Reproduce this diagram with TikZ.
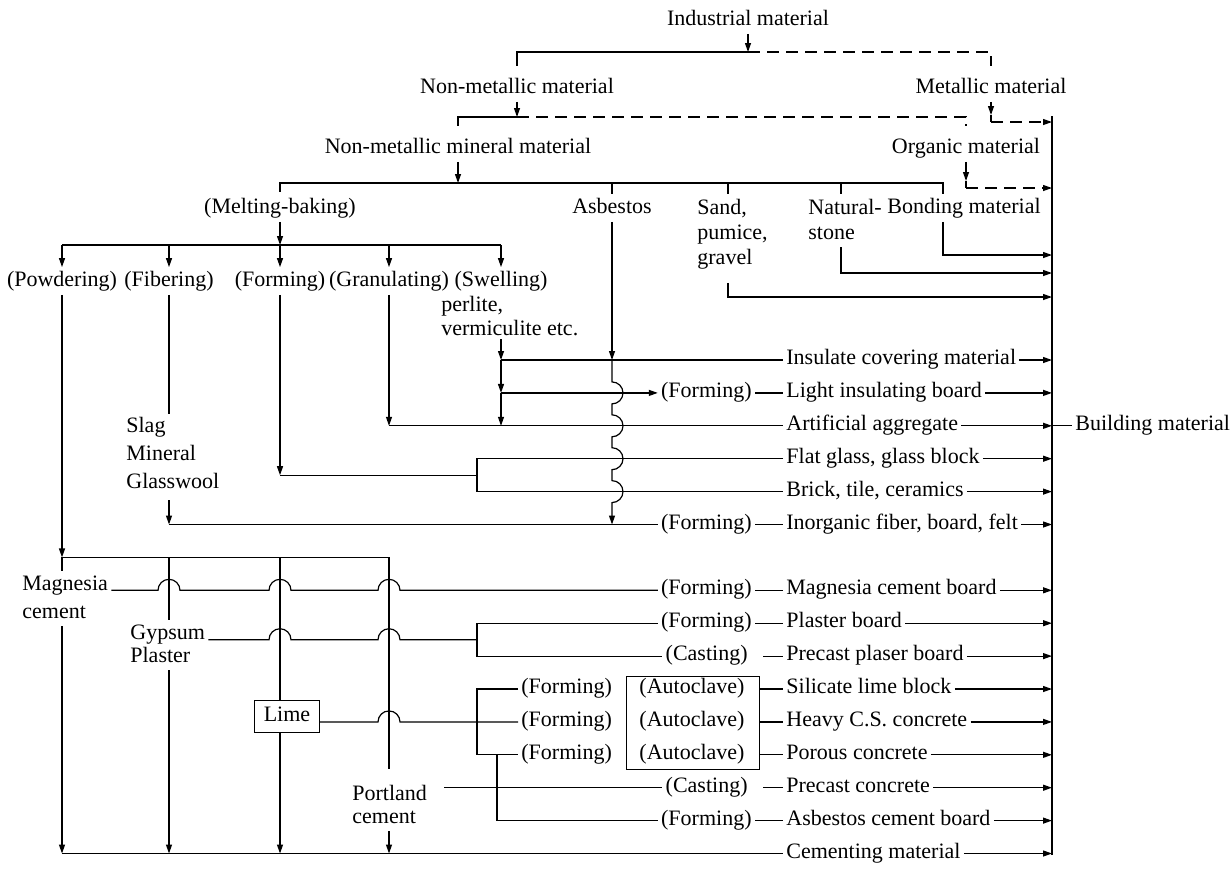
\documentclass[tikz,border=0pt]{standalone}
\usepackage{fontspec}
\setmainfont{Liberation Serif}
\usetikzlibrary{arrows.meta,calc}
\begin{document}
\begin{tikzpicture}[x=0.5pt,y=-0.5pt,
  every node/.style={font=\fontsize{11}{13}\selectfont, inner sep=1.5pt,
                     text height=8pt, text depth=2.5pt},
  ml/.style={align=left, anchor=north west, text height=, text depth=},
  wire/.style={line width=0.6pt},
  arr/.style={wire,-{Triangle[length=4.5pt,width=3pt]}},
  dsh/.style={wire,dash pattern=on 6pt off 3.5pt},
  darr/.style={dsh,-{Triangle[length=4.5pt,width=3pt]}},
  prod/.style={anchor=mid west},
  proc/.style={anchor=mid east},
]
\fill[white] (0,0) rectangle (1232,869);
\useasboundingbox (0,0) rectangle (1232,869);

% ---------- upper classification ----------
\node (ind)    at (748,20)  {Industrial material};
\node (nonmet) at (517,88)  {Non-metallic material};
\node (met)    at (991,88)  {Metallic material};
\node (nmm)    at (458,148) {Non-metallic mineral material};
\node (org)    at (966,148) {Organic material};

\coordinate (j1) at (748,52);
\coordinate (j2) at (517,117);
\coordinate (j3) at (458,183);
\coordinate (R)    at (1052,116);
\coordinate (Rend) at (1052,855);
\draw[wire] (R) -- (Rend);

\draw[arr] (ind.south) -- (j1);
\draw[wire,shorten >=4pt] (j1) -| (nonmet.north);
\draw[dsh,shorten >=4pt]  (j1) -| (met.north);

\draw[arr] (nonmet.south) -- (j2);
\draw[wire,shorten >=4pt] (j2) -| (nmm.north);
\draw[dsh,shorten >=4pt]  (j2) -| (org.north);

\coordinate (m1) at (991,115);
\coordinate (m2) at (991,122);
\draw[arr] (met.south) -- (m1);
\draw[wire] (m1) -- (m2);
\draw[darr] (m2) -- (m2 -| R);

\coordinate (o1) at (966,181);
\coordinate (o2) at (966,188);
\draw[arr] (org.south) -- (o1);
\draw[wire] (o1) -- (o2);
\draw[darr] (o2) -- (o2 -| R);

\draw[arr] (nmm.south) -- (j3);

% ---------- raw materials ----------
\node (melt) at (280,208) {(Melting-baking)};
\node (asb)  at (612,208) {Asbestos};
\node[ml,font=\fontsize{11}{12.5}\selectfont] (sand) at (694,196) {Sand,\\pumice,\\gravel};
\node[ml,font=\fontsize{11}{12.5}\selectfont] (nat)  at (805,196) {Natural-\\stone};
\node (bond) at (964,208) {Bonding material};

\coordinate (sx) at (728,0);
\coordinate (nx) at (841,0);
\coordinate (bx) at (943,0);
\coordinate (tBond) at (1052,255);
\coordinate (tNat)  at (1052,273);
\coordinate (tSand) at (1052,297);

\draw[wire,shorten >=1pt] (j3) -| (melt.north);
\draw[wire] (j3) -| (asb.north);
\draw[wire] (j3) -| (sx |- asb.north);
\draw[wire] (j3) -| (nx |- asb.north);
\draw[wire] (j3) -| (bx |- asb.north);

\draw[arr] (bx |- bond.south) |- (tBond);
\draw[arr,shorten <=2pt] (nx |- nat.south) |- (tNat);
\draw[arr,shorten <=5pt] (sx |- sand.south) |- (tSand);

% ---------- processing ----------
\node (powd) at (62,281)  {(Powdering)};
\node (fib)  at (169,281) {(Fibering)};
\node (form) at (280,281) {(Forming)};
\node (gran) at (389,281) {(Granulating)};
\node (swel) at (501,281) {(Swelling)};

\coordinate (mb) at (280,245);
\draw[arr] (melt.south) -- (mb);
\draw[wire] (powd |- mb) -- (swel |- mb);
\foreach \n in {powd,fib,form,gran,swel}
  \draw[arr] (\n |- mb) -- (\n.north);

\node[ml,font=\fontsize{11}{12}\selectfont] (perl) at (438,293) {perlite,\\vermiculite etc.};
\node[ml,font=\fontsize{11}{14}\selectfont] (slag) at (123,414) {Slag\\Mineral\\Glasswool};

% ---------- products ----------
\node[prod] (p1)  at (783,360.0) {Insulate covering material};
\node[prod] (p2)  at (783,392.9) {Light insulating board};
\node[prod] (p3)  at (783,425.8) {Artificial aggregate};
\node[prod] (p4)  at (783,458.7) {Flat glass, glass block};
\node[prod] (p5)  at (783,491.6) {Brick, tile, ceramics};
\node[prod] (p6)  at (783,524.5) {Inorganic fiber, board, felt};
\node[prod] (p7)  at (783,590.3) {Magnesia cement board};
\node[prod] (p8)  at (783,623.2) {Plaster board};
\node[prod] (p9)  at (783,656.1) {Precast plaser board};
\node[prod] (p10) at (783,689.0) {Silicate lime block};
\node[prod] (p11) at (783,721.9) {Heavy C.S. concrete};
\node[prod] (p12) at (783,754.8) {Porous concrete};
\node[prod] (p13) at (783,787.7) {Precast concrete};
\node[prod] (p14) at (783,820.6) {Asbestos cement board};
\node[prod] (p15) at (783,853.5) {Cementing material};

\node[proc] (f2)  at (755,392.9) {(Forming)};
\node[proc] (f6)  at (755,524.5) {(Forming)};
\node[proc] (f7)  at (755,590.3) {(Forming)};
\node[proc] (f8)  at (755,623.2) {(Forming)};
\node[proc] (c9)  at (751,656.1) {(Casting)};
\node[proc] (c13) at (751,787.7) {(Casting)};
\node[proc] (f14) at (755,820.6) {(Forming)};

\foreach \a/\b in {f2/p2,f6/p6,f7/p7,f8/p8,f14/p14}
  \draw[wire] (\a.mid east) -- (\b.mid west);
\foreach \a/\b in {c9/p9,c13/p13}
  \draw[wire,shorten <=6pt] (\a.mid east) -- (\b.mid west);

\foreach \p in {p1,p2,p3,p4,p5,p6,p7,p8,p9,p10,p11,p12,p13,p14,p15}
  \draw[arr] (\p.mid east) -- (\p.mid east -| R);

\node[prod] (bm) at (1072,425.8) {Building material};
\draw[wire] (p3.mid east -| R) -- (bm.mid west);

% swelling branch
\draw[arr] (swel |- perl.south) -- (swel |- p1.mid west);
\draw[wire] (swel |- p1.mid west) -- (p1.mid west);
\draw[arr] (swel |- p1.mid west) -- (swel |- p2.mid west);
\draw[arr] (swel |- p2.mid west) -- (f2.mid west);
\draw[arr] (swel |- p2.mid west) -- (swel |- p3.mid west);

% granulating branch
\draw[arr] (gran.south) -- (gran |- p3.mid west);
\draw[wire] (gran |- p3.mid west) -- (p3.mid west);

% forming branch
\coordinate (brk) at (477,0);
\coordinate (fg) at (477,475.2);
\draw[arr] (form.south) -- (form |- fg);
\draw[wire] (form |- fg) -- (fg);
\draw[wire] (p4.mid west) -- (brk |- p4.mid west) -- (brk |- p5.mid west) -- (p5.mid west);

% fibering branch
\draw[wire] (fib.south) -- (fib |- slag.north);
\draw[arr,shorten <=4pt] (fib |- slag.south) -- (fib |- p6.mid west);
\draw[wire] (fib |- p6.mid west) -- (f6.mid west);

% asbestos line, hopping over the crossing rows
\draw[arr] (asb.south) -- (asb |- p1.mid west);
\draw[arr] (asb |- p1.mid west) -- (612,381.9)
  arc[start angle=90,end angle=-90,radius=5.5pt] -- (612,414.8)
  arc[start angle=90,end angle=-90,radius=5.5pt] -- (612,447.7)
  arc[start angle=90,end angle=-90,radius=5.5pt] -- (612,480.6)
  arc[start angle=90,end angle=-90,radius=5.5pt] -- (asb |- f6.mid west);

% ---------- binders ----------
\node[anchor=base west] (mag)   at (19,590.3) {Magnesia};
\node[anchor=base west] (magc)  at (19,618)   {cement};
\node[anchor=base west] (gyp)   at (127,639.7) {Gypsum};
\node[anchor=base west] (plas)  at (127,662)  {Plaster};
\node[draw,minimum width=32.5pt,minimum height=16pt] (lime) at (287,716) {Lime};
\node[anchor=base west] (port)  at (349,800)  {Portland};
\node[anchor=base west] (portc) at (349,823)  {cement};

\coordinate (dist) at (62,557.4);
\draw[arr] (powd.south) -- (dist);
\draw[wire] (dist) -- (gran |- dist);
\draw[wire] (dist) -- (powd |- mag.north);
\draw[wire] (fib |- dist) -- (fib |- gyp.north);
\draw[wire] (form |- dist) -- (form |- lime.north);
\draw[wire,shorten >=6pt] (gran |- dist) -- (gran |- port.north);

\draw[arr] (powd |- magc.south) -- (powd |- p15.mid west);
\draw[wire] (powd |- p15.mid west) -- (p15.mid west);
\draw[arr] (fib |- plas.south) -- (fib |- p15.mid west);
\draw[arr] (form |- lime.south) -- (form |- p15.mid west);
\draw[arr] (gran |- portc.south) -- (gran |- p15.mid west);

% magnesia cement line
\draw[wire] (mag.base east) -- (158,590.3)
  arc[start angle=180,end angle=0,radius=5.5pt] -- (269,590.3)
  arc[start angle=180,end angle=0,radius=5.5pt] -- (378,590.3)
  arc[start angle=180,end angle=0,radius=5.5pt] -- (f7.mid west);

% gypsum plaster line
\draw[wire] (gyp.base east) -- (269,639.7)
  arc[start angle=180,end angle=0,radius=5.5pt] -- (378,639.7)
  arc[start angle=180,end angle=0,radius=5.5pt] -- (brk |- gyp.base east);
\draw[wire] (f8.mid west) -- (brk |- f8.mid west) -- (brk |- c9.mid west) -- (c9.mid west);

% lime group
\node[anchor=mid west] (f10) at (518,689.0) {(Forming)};
\node[anchor=mid west] (f11) at (518,721.9) {(Forming)};
\node[anchor=mid west] (f12) at (518,754.8) {(Forming)};
\node[draw,minimum width=66.5pt,minimum height=46.5pt,text height=,text depth=] (clave) at (692.5,722.5) {};
\node[anchor=mid] (a10) at (692,689.0) {(Autoclave)};
\node[anchor=mid] (a11) at (692,721.9) {(Autoclave)};
\node[anchor=mid] (a12) at (692,754.8) {(Autoclave)};

\draw[wire] (lime.east |- f11.mid west) -- (378,721.9)
  arc[start angle=180,end angle=0,radius=5.5pt] -- (f11.mid west);
\draw[wire] (f10.mid west) -- (brk |- f10.mid west) -- (brk |- f12.mid west) -- (f12.mid west);
\foreach \p in {p10,p11,p12}
  \draw[wire] (clave.east |- \p.mid west) -- (\p.mid west);

\coordinate (acx) at (497,0);
\draw[wire] (acx |- f12.mid west) -- (acx |- f14.mid west) -- (f14.mid west);

\draw[wire,shorten <=7pt] (port.east |- c13.mid west) -- (c13.mid west);
\end{tikzpicture}
\end{document}
